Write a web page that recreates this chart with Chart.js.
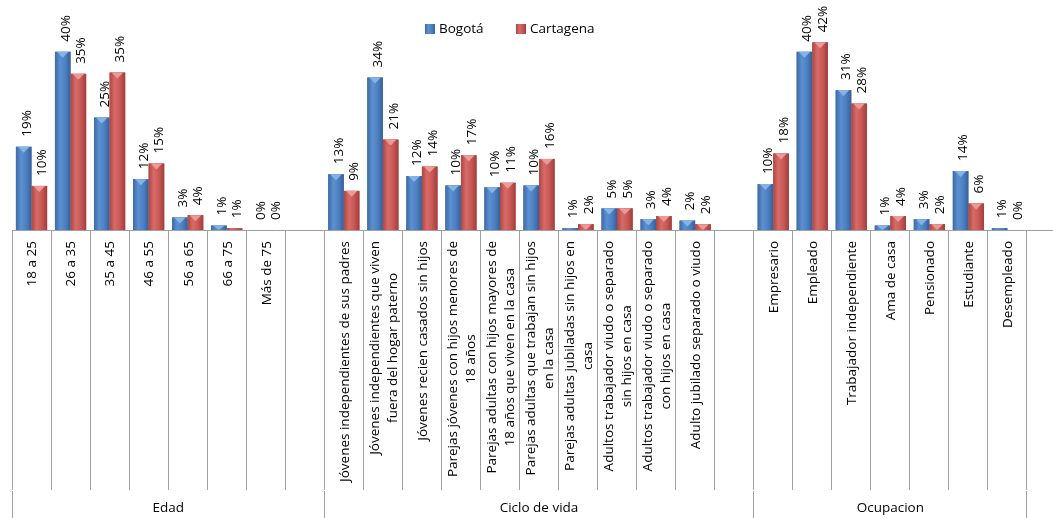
<!DOCTYPE html>
<html>
<head>
<meta charset="utf-8">
<script src="https://cdn.jsdelivr.net/npm/chart.js@4.4.0/dist/chart.umd.min.js"></script>
<style>
  html, body { margin: 0; padding: 0; background: #fff; overflow: hidden; }
  #wrap { width: 1066px; height: 518px; }
</style>
</head>
<body>
<div id="wrap"><canvas id="chart" width="1066" height="518"></canvas></div>
<script>
// Category labels (blank strings are the empty slots between groups)
const categories = [
  '18 a 25', '26 a 35', '35 a 45', '46 a 55', '56 a 65', '66 a 75', 'Más de 75', '',
  'Jóvenes independientes de sus padres',
  ['Jóvenes independientes que viven', 'fuera del hogar paterno'],
  'Jóvenes recien casados sin hijos',
  ['Parejas jóvenes con hijos menores de', '18 años'],
  ['Parejas adultas con hijos mayores de', '18 años que viven en la casa'],
  ['Parejas adultas que trabajan sin hijos', 'en la casa'],
  ['Parejas adultas jubiladas sin hijos en', 'casa'],
  ['Adultos trabajador viudo o separado', 'sin hijos en casa'],
  ['Adultos trabajador viudo o separado', 'con hijos en casa'],
  'Adulto jubilado separado o viudo', '',
  'Empresario', 'Empleado', 'Trabajador independiente', 'Ama de casa', 'Pensionado', 'Estudiante', 'Desempleado', ''
];

// Outer level of the axis: name, first slot, slot after last
const groupNames = ['Edad', 'Ciclo de vida', 'Ocupacion'];
const groupStart = [0, 8, 19];
const groupEnd = [8, 19, 26];

const seriesNames = ['Bogotá', 'Cartagena'];

// Bar heights (%)
const bogota = [18.5, 39.6, 25, 11.3, 2.8, 1.0, 0, null,
  12.4, 33.9, 12, 9.9, 9.5, 9.9, 0.4, 4.8, 2.4, 2.1, null,
  10.2, 39.6, 31.1, 1.0, 2.4, 13.1, 0.4, null];
const cartagena = [9.8, 34.7, 35, 14.8, 3.3, 0.4, 0, null,
  8.7, 20.1, 14.1, 16.6, 10.5, 15.8, 1.3, 4.8, 3.1, 1.3, null,
  17.0, 41.7, 28.1, 3.1, 1.3, 5.9, 0, null];

// Printed (rounded) data labels
const bogotaLabels = [19, 40, 25, 12, 3, 1, 0, null,
  13, 34, 12, 10, 10, 10, 1, 5, 3, 2, null,
  10, 40, 31, 1, 3, 14, 1, null];
const cartagenaLabels = [10, 35, 35, 15, 4, 1, 0, null,
  9, 21, 14, 17, 11, 16, 2, 5, 4, 2, null,
  18, 42, 28, 4, 2, 6, 0, null];

const valueLabels = [bogotaLabels, cartagenaLabels];

// bevel-ish look of the excel bars
const palettes = [
  { flat: '#4f81bd', stops: ['#3d6aa4', '#5b90d1', '#4d80c1', '#35609a'], tip: '#86b3e6' },
  { flat: '#c0504d', stops: ['#ad4643', '#d86b68', '#c65855', '#a23e3b'], tip: '#eb9a97' }
];

const fontFamily = '"Open Sans", sans-serif';
const textFont = '13.5px ' + fontFamily;
const lineColor = '#a0a0a0';

function crisp(x) {
  return Math.round(x - 0.5) + 0.5;
}

const excelLook = {
  id: 'excelLook',
  afterDatasetsDraw(chart) {
    const ctx = chart.ctx;
    chart.data.datasets.forEach((ds, di) => {
      const meta = chart.getDatasetMeta(di);
      const pal = palettes[di];
      meta.data.forEach((bar, i) => {
        if (ds.data[i] == null) return;
        const p = bar.getProps(['x', 'y', 'base', 'width'], true);
        const h = p.base - p.y;
        const l = p.x - p.width / 2, r = p.x + p.width / 2;
        if (h > 0.2) {
          ctx.save();
          const g = ctx.createLinearGradient(l, 0, r, 0);
          pal.stops.forEach((c, k) => g.addColorStop(k / (pal.stops.length - 1), c));
          ctx.fillStyle = g;
          ctx.fillRect(l, p.y, p.width, h);
          if (h > 3) {
            ctx.beginPath();
            ctx.moveTo(l + 2, p.y);
            ctx.lineTo(r - 2, p.y);
            ctx.lineTo(p.x, p.y + Math.min(6, h));
            ctx.closePath();
            ctx.fillStyle = pal.tip;
            ctx.fill();
          }
          ctx.restore();
        }
        // rotated value label above the bar
        const t = valueLabels[di][i];
        if (t == null) return;
        ctx.save();
        ctx.font = textFont;
        ctx.fillStyle = '#000';
        ctx.translate(p.x + 3, p.y - 10);
        ctx.rotate(-Math.PI / 2);
        ctx.textAlign = 'left';
        ctx.textBaseline = 'middle';
        ctx.fillText(t + '%', 0, 0);
        ctx.restore();
      });
    });
  },
  afterDraw(chart) {
    const ctx = chart.ctx;
    const xs = chart.scales.x;
    ctx.save();
    ctx.font = textFont;
    ctx.fillStyle = '#000';

    // inner category labels, centred lines, top end near the axis
    const top = xs.top + 11;
    xs.ticks.forEach((tk, i) => {
      const lab = categories[i];
      const lines = Array.isArray(lab) ? lab : [lab];
      if (!lines[0]) return;
      const maxW = Math.max(...lines.map(s => ctx.measureText(s).width));
      const cx = xs.getPixelForTick(i);
      lines.forEach((s, j) => {
        const lx = cx + 1 + (j - (lines.length - 1) / 2) * 18;
        ctx.save();
        ctx.translate(lx, top + maxW / 2);
        ctx.rotate(-Math.PI / 2);
        ctx.textAlign = 'center';
        ctx.textBaseline = 'middle';
        ctx.fillText(s, 0, 0);
        ctx.restore();
      });
    });

    // outer level: group separators and names
    const w = xs.width / categories.length;
    ctx.strokeStyle = lineColor;
    ctx.lineWidth = 1;
    groupNames.forEach((name, g) => {
      const x0 = xs.left + groupStart[g] * w;
      const x1 = xs.left + groupEnd[g] * w;
      [x0, x1].forEach(x => {
        ctx.beginPath();
        ctx.moveTo(crisp(x), xs.bottom + 1);
        ctx.lineTo(crisp(x), chart.height);
        ctx.stroke();
      });
      ctx.textAlign = 'center';
      ctx.textBaseline = 'middle';
      ctx.fillText(name, (x0 + x1) / 2, 508);
    });

    // legend
    const legendX = [425, 516];
    seriesNames.forEach((name, k) => {
      const x = legendX[k];
      const g = ctx.createLinearGradient(x, 0, x + 10, 0);
      palettes[k].stops.forEach((c, n) => g.addColorStop(n / (palettes[k].stops.length - 1), c));
      ctx.fillStyle = g;
      ctx.fillRect(x, 24, 10, 10);
      ctx.fillStyle = '#000';
      ctx.textAlign = 'left';
      ctx.textBaseline = 'middle';
      ctx.fillText(name, x + 14, 29);
    });
    ctx.restore();
  }
};

const chart = new Chart(document.getElementById('chart'), {
  type: 'bar',
  data: {
    labels: categories,
    datasets: [
      { label: seriesNames[0], data: bogota, backgroundColor: palettes[0].flat },
      { label: seriesNames[1], data: cartagena, backgroundColor: palettes[1].flat }
    ]
  },
  options: {
    responsive: false,
    animation: false,
    layout: { padding: { left: 12, right: 0, top: 5, bottom: 28 } },
    datasets: { bar: { categoryPercentage: 0.8, barPercentage: 1 } },
    plugins: {
      legend: { display: false },
      tooltip: { enabled: false }
    },
    scales: {
      x: {
        grid: { offset: true, drawOnChartArea: false, drawTicks: true, tickLength: 260, color: lineColor },
        border: { color: lineColor },
        ticks: { display: false },
        afterFit: axis => { axis.height = 260; }
      },
      y: {
        display: false,
        min: 0,
        max: 50
      }
    }
  },
  plugins: [excelLook]
});
</script>
</body>
</html>
